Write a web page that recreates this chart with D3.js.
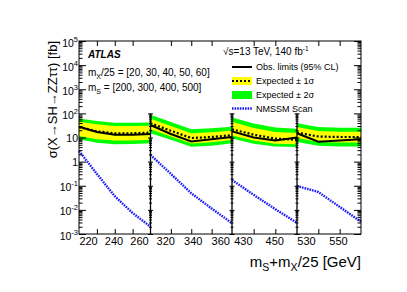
<!DOCTYPE html>
<html>
<head>
<meta charset="utf-8">
<script src="https://cdn.jsdelivr.net/npm/d3@7"></script>
<style>
body { margin: 0; background: #fff; }
svg { display: block; font-family: "Liberation Sans", Arial, sans-serif; }
</style>
</head>
<body>
<script>
// grid of the scan
const massS = [200, 300, 400, 500];
const massXover25 = [20, 30, 40, 50, 60];

// x positions (mS + mX/25) of the points in each panel
const xPoints = [
  [220, 230, 240, 250, 260],
  [320, 330, 340, 350, 360],
  [420, 430, 440, 450],
  [520, 530, 540, 550]
];

// limits in fb
const obsLimit = [
  [28, 17, 13, 13, 14],
  [33, 14, 6.8, 8.5, 10.5],
  [18, 10, 7.5, 10],
  [15, 6.7, 7.5, 8.5]
];
const expLimit = [
  [27, 18, 15, 15, 16],
  [39, 19, 9.5, 10.5, 12.5],
  [22, 13, 9, 8],
  [16, 11, 10.5, 10.5]
];
const exp1Lo = [
  [11.5, 8.5, 7.5, 7.5, 8],
  [22, 11, 5.6, 6.3, 7.8],
  [12, 7.5, 5.5, 5.2],
  [9.5, 6.5, 6.2, 6.2]
];
const exp1Hi = [
  [45, 35, 30, 30, 31],
  [60, 30, 15, 16.5, 19.5],
  [45, 25, 17, 15.5],
  [27, 18.5, 17.5, 17.5]
];
const exp2Lo = [
  [8.4, 6, 5.3, 5.4, 5.8],
  [15, 8, 4.1, 4.6, 5.8],
  [9, 5.5, 4.2, 4.0],
  [6.5, 4.5, 4.2, 4.2]
];
const exp2Hi = [
  [62, 48, 41, 41, 42],
  [88, 44, 22, 24, 28],
  [68, 38, 26, 23],
  [39, 27, 25.5, 25.5]
];
const nmssm = [
  [2.76, 0.31, 0.037, 0.0074, 0.002],
  [1.9, 0.31, 0.049, 0.0114, 0.0028],
  [0.173, 0.042, 0.0107, 0.0029],
  [0.098, 0.055, 0.0133, 0.0032]
];

// tick labels shown under each panel and the range they are drawn on
const xTickLabels = [[220, 240, 260], [320, 340, 360], [430, 450], [530, 550]];
const labelDomains = [[212.9, 269], [309.3, 368.6], [423.1, 464.5], [524.4, 564.4]];
const yMajor = [1e-3, 1e-2, 1e-1, 1, 10, 1e2, 1e3, 1e4, 1e5];

// layout
const width = 407, height = 292;
const plotTop = 41, plotBottom = 234;
const panelEdges = [79, 150.5, 232, 297, 361];
const plotLeft = panelEdges[0], plotRight = panelEdges[panelEdges.length - 1];

const svg = d3.select('body').append('svg')
  .attr('width', width)
  .attr('height', height);

const y = d3.scaleLog().domain([1e-3, 1e5]).range([plotBottom, plotTop]);

const yMinor = [];
yMajor.slice(0, -1).forEach(d => {
  for (let k = 2; k <= 9; k++) yMinor.push(d * k);
});

// panels
xPoints.forEach((pts, i) => {
  const x0 = panelEdges[i], x1 = panelEdges[i + 1];
  const xs = d3.scaleLinear().domain(d3.extent(pts)).range([x0, x1]);
  const xl = d3.scaleLinear().domain(labelDomains[i]).range([x0, x1]);
  const g = svg.append('g');

  const band = (lo, hi) => d3.area()
    .x((d, j) => xs(pts[j]))
    .y0((d, j) => y(lo[i][j]))
    .y1((d, j) => y(hi[i][j]));

  g.append('path').datum(pts)
    .attr('d', band(exp2Lo, exp2Hi))
    .attr('fill', '#00ff00');
  g.append('path').datum(pts)
    .attr('d', band(exp1Lo, exp1Hi))
    .attr('fill', '#ffff00');

  const line = vals => d3.line()
    .x((d, j) => xs(pts[j]))
    .y((d, j) => y(vals[i][j]));

  g.append('path').datum(pts)
    .attr('d', line(expLimit))
    .attr('fill', 'none')
    .attr('stroke', '#000')
    .attr('stroke-width', 2.2)
    .attr('stroke-dasharray', '2,2');
  g.append('path').datum(pts)
    .attr('d', line(obsLimit))
    .attr('fill', 'none')
    .attr('stroke', '#000')
    .attr('stroke-width', 2);
  g.append('path').datum(pts)
    .attr('d', line(nmssm))
    .attr('fill', 'none')
    .attr('stroke', '#1a1aff')
    .attr('stroke-width', 2.4)
    .attr('stroke-dasharray', '1.6,1');

  // tick marks at the inner points, bottom and top
  const inner = pts.slice(1, -1);
  g.append('g')
    .attr('transform', `translate(0,${plotBottom})`)
    .call(d3.axisTop(xs).tickValues(inner).tickSize(5).tickFormat(''))
    .call(a => a.select('.domain').remove());
  g.append('g')
    .attr('transform', `translate(0,${plotTop})`)
    .call(d3.axisBottom(xs).tickValues(inner).tickSize(5).tickFormat(''))
    .call(a => a.select('.domain').remove());

  // labels
  g.append('g')
    .attr('transform', `translate(0,${plotBottom})`)
    .call(d3.axisBottom(xl).tickValues(xTickLabels[i]).tickSize(0).tickPadding(3))
    .call(a => a.select('.domain').remove())
    .selectAll('text')
    .attr('font-size', 11)
    .attr('font-family', '"Liberation Sans", Arial, sans-serif')
    .attr('fill', '#000');
});

// vertical axes: frame edges and separators
const vAxis = (xpos, gen, major, minor, maxV) => {
  const keep = v => v <= maxV;
  svg.append('g')
    .attr('transform', `translate(${xpos},0)`)
    .call(gen(y).tickValues(yMajor.filter(keep)).tickSize(major).tickFormat(''))
    .call(a => a.select('.domain').remove());
  svg.append('g')
    .attr('transform', `translate(${xpos},0)`)
    .call(gen(y).tickValues(yMinor.filter(keep)).tickSize(minor).tickFormat(''))
    .call(a => a.select('.domain').remove());
};
vAxis(plotLeft, d3.axisRight, 7, 3.5, 1e5);
vAxis(plotRight, d3.axisLeft, 7, 3.5, 1e5);
// separators stop under the text boxes
const sepTop = 100;
panelEdges.slice(1, -1).forEach(xp => {
  vAxis(xp, d3.axisRight, 2.5, 1.5, sepTop);
  vAxis(xp, d3.axisLeft, 2.5, 1.5, sepTop);
  svg.append('line')
    .attr('x1', xp).attr('x2', xp)
    .attr('y1', y(sepTop)).attr('y2', plotBottom)
    .attr('stroke', '#000')
    .attr('stroke-width', 1.3);
});

// frame
svg.append('rect')
  .attr('x', plotLeft).attr('y', plotTop)
  .attr('width', plotRight - plotLeft).attr('height', plotBottom - plotTop)
  .attr('fill', 'none')
  .attr('stroke', '#000')
  .attr('stroke-width', 1);

// y tick labels
yMajor.forEach(v => {
  const p = Math.round(Math.log10(v));
  const t = svg.append('text')
    .attr('x', 78)
    .attr('text-anchor', 'end')
    .attr('font-size', 10.5);
  if (p === 0) {
    t.attr('y', y(v) + 4).text('1');
  } else if (p === 1) {
    t.attr('y', y(v) + 4).text('10');
  } else {
    t.attr('y', y(v) + 5.5).text('10');
    t.append('tspan').attr('dy', -5).attr('font-size', 7.5).text(p);
  }
});

// axis titles
svg.append('text')
  .attr('transform', `translate(57,${plotTop}) rotate(-90)`)
  .attr('text-anchor', 'end')
  .attr('font-size', 13)
  .text('σ(X→SH→ZZττ) [fb]');

const xt = svg.append('text')
  .attr('x', plotRight)
  .attr('y', 267)
  .attr('text-anchor', 'end')
  .attr('font-size', 15);
xt.append('tspan').text('m');
xt.append('tspan').attr('font-size', 10.5).attr('dy', 4).text('S');
xt.append('tspan').attr('dy', -4).text('+m');
xt.append('tspan').attr('font-size', 10.5).attr('dy', 4).text('X');
xt.append('tspan').attr('dy', -4).text('/25 [GeV]');

// ATLAS label block
svg.append('text')
  .attr('x', 88).attr('y', 58)
  .attr('font-size', 10)
  .attr('font-weight', 'bold')
  .attr('font-style', 'italic')
  .text('ATLAS');

const l1 = svg.append('text').attr('x', 88).attr('y', 76).attr('font-size', 10);
l1.append('tspan').text('m');
l1.append('tspan').attr('font-size', 7).attr('dy', 2.5).text('X');
l1.append('tspan').attr('dy', -2.5).text(`/25 = [${massXover25.join(', ')}]`);

const l2 = svg.append('text').attr('x', 88).attr('y', 91).attr('font-size', 10);
l2.append('tspan').text('m');
l2.append('tspan').attr('font-size', 7).attr('dy', 2.5).text('S');
l2.append('tspan').attr('dy', -2.5).text(` = [${massS.join(', ')}]`);

// legend
const lum = svg.append('text').attr('x', 223).attr('y', 55).attr('font-size', 10);
lum.append('tspan').text('√s=13 TeV, 140 fb');
lum.append('tspan').attr('font-size', 6.5).attr('dy', -4).text('-1');

const legX = 232, legW = 20, textX = 256;
const rows = [67, 81, 95, 108.5];
const legLabels = ['Obs. limits (95% CL)', 'Expected \u00b1 1\u03c3', 'Expected \u00b1 2\u03c3', 'NMSSM Scan'];

svg.append('line')
  .attr('x1', legX).attr('x2', legX + legW)
  .attr('y1', rows[0]).attr('y2', rows[0])
  .attr('stroke', '#000').attr('stroke-width', 2);
svg.append('rect')
  .attr('x', legX).attr('y', rows[1] - 4)
  .attr('width', legW).attr('height', 8)
  .attr('fill', '#ffff00');
svg.append('line')
  .attr('x1', legX).attr('x2', legX + legW)
  .attr('y1', rows[1]).attr('y2', rows[1])
  .attr('stroke', '#000').attr('stroke-width', 2.2)
  .attr('stroke-dasharray', '2,2');
svg.append('rect')
  .attr('x', legX).attr('y', rows[2] - 4)
  .attr('width', legW).attr('height', 8)
  .attr('fill', '#00ff00');
svg.append('line')
  .attr('x1', legX).attr('x2', legX + legW)
  .attr('y1', rows[3]).attr('y2', rows[3])
  .attr('stroke', '#1a1aff').attr('stroke-width', 2.4)
  .attr('stroke-dasharray', '1.6,1');

legLabels.forEach((t, k) => {
  svg.append('text')
    .attr('x', textX).attr('y', rows[k] + 3.3)
    .attr('font-size', 9)
    .text(t);
});
</script>
</body>
</html>
